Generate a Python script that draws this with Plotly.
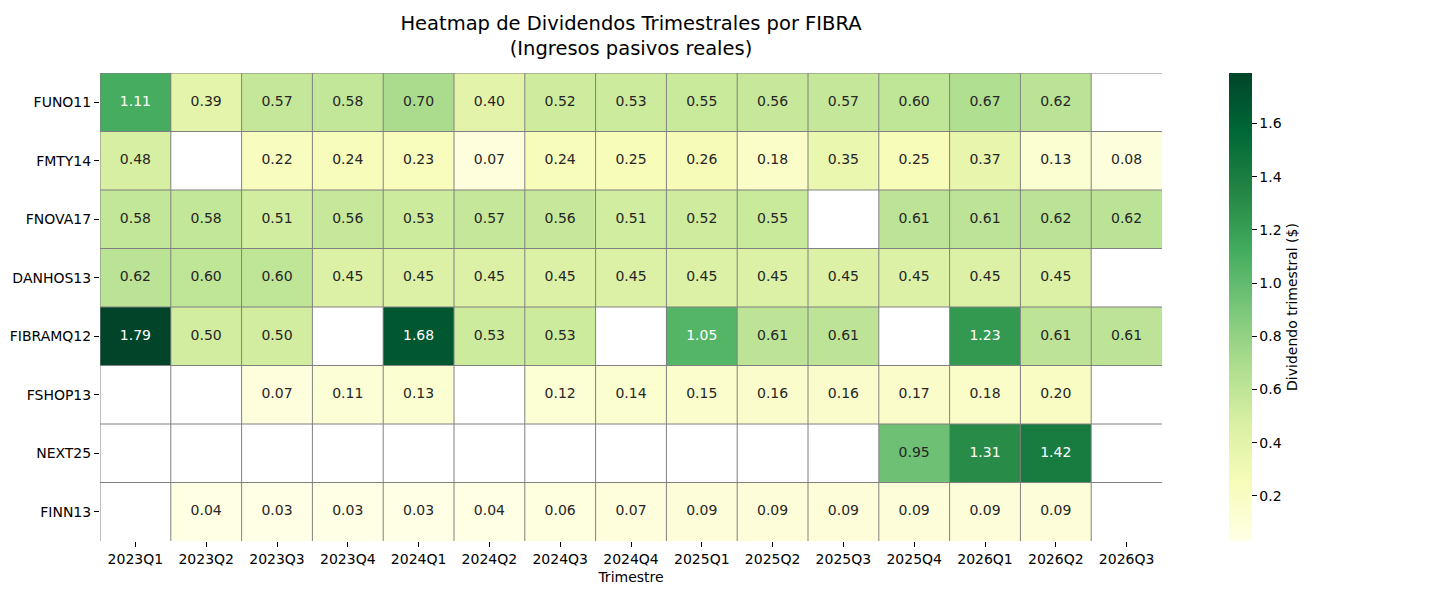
import numpy as np
import plotly.graph_objects as go

# data
quarters = ["2023Q1", "2023Q2", "2023Q3", "2023Q4", "2024Q1", "2024Q2", "2024Q3", "2024Q4",
            "2025Q1", "2025Q2", "2025Q3", "2025Q4", "2026Q1", "2026Q2", "2026Q3"]
fibras = ["FUNO11", "FMTY14", "FNOVA17", "DANHOS13", "FIBRAMQ12", "FSHOP13", "NEXT25", "FINN13"]

nan = None
funo11 = [1.11, 0.39, 0.57, 0.58, 0.70, 0.40, 0.52, 0.53, 0.55, 0.56, 0.57, 0.60, 0.67, 0.62, nan]
fmty14 = [0.48, nan, 0.22, 0.24, 0.23, 0.07, 0.24, 0.25, 0.26, 0.18, 0.35, 0.25, 0.37, 0.13, 0.08]
fnova17 = [0.58, 0.58, 0.51, 0.56, 0.53, 0.57, 0.56, 0.51, 0.52, 0.55, nan, 0.61, 0.61, 0.62, 0.62]
danhos13 = [0.62, 0.60, 0.60, 0.45, 0.45, 0.45, 0.45, 0.45, 0.45, 0.45, 0.45, 0.45, 0.45, 0.45, nan]
fibramq12 = [1.79, 0.50, 0.50, nan, 1.68, 0.53, 0.53, nan, 1.05, 0.61, 0.61, nan, 1.23, 0.61, 0.61]
fshop13 = [nan, nan, 0.07, 0.11, 0.13, nan, 0.12, 0.14, 0.15, 0.16, 0.16, 0.17, 0.18, 0.20, nan]
next25 = [nan, nan, nan, nan, nan, nan, nan, nan, nan, nan, nan, 0.95, 1.31, 1.42, nan]
finn13 = [nan, 0.04, 0.03, 0.03, 0.03, 0.04, 0.06, 0.07, 0.09, 0.09, 0.09, 0.09, 0.09, 0.09, nan]

rows = [funo11, fmty14, fnova17, danhos13, fibramq12, fshop13, next25, finn13]
z = np.array([[np.nan if v is None else v for v in r] for r in rows])

ylgn = ["#ffffe5", "#f7fcb9", "#d9f0a3", "#addd8e", "#78c679",
        "#41ab5d", "#238443", "#006837", "#004529"]
colorscale = [[i / (len(ylgn) - 1), c] for i, c in enumerate(ylgn)]

zmin = np.nanmin(z)
zmax = np.nanmax(z)

# page body adds an 8px offset, so the figure is drawn 8px smaller and shifted
W, H = 1432, 592
L, T, PW, PH = 92, 65, 1062, 468

fig = go.Figure()
fig.add_trace(go.Heatmap(
    z=z, x=quarters, y=fibras,
    colorscale=colorscale, zmin=zmin, zmax=zmax,
    hoverongaps=False,
    colorbar=dict(
        x=(1229 - 100) / PW, xanchor="left", y=0.5, yanchor="middle",
        len=1, lenmode="fraction", xpad=0, ypad=0,
        thickness=23, outlinewidth=0,
        tickvals=[0.2, 0.4, 0.6, 0.8, 1.0, 1.2, 1.4, 1.6],
        ticktext=["0.2", "0.4", "0.6", "0.8", "1.0", "1.2", "1.4", "1.6"],
        ticks="outside", ticklen=5, tickcolor="#000",
        tickfont=dict(size=14, color="#000"),
        title=dict(text="Dividendo trimestral ($)", side="right",
                   font=dict(size=14, color="#000")),
    ),
))

# cell annotations: white on dark cells, dark grey otherwise
tx, ty, tt, tc = [], [], [], []
for j, name in enumerate(fibras):
    for i, q in enumerate(quarters):
        v = z[j, i]
        if np.isnan(v):
            continue
        tx.append(q)
        ty.append(name)
        tt.append(f"{v:.2f}")
        tc.append("white" if (v - zmin) / (zmax - zmin) > 0.55 else "#262626")

fig.add_trace(go.Scatter(
    x=tx, y=ty, text=tt, mode="text",
    textfont=dict(size=14, color=tc, family="DejaVu Sans"),
    hoverinfo="skip", showlegend=False,
))

# grey cell borders
shapes = []
for i in range(len(quarters)):
    shapes.append(dict(type="line", xref="x", yref="y", x0=i - 0.5, x1=i - 0.5,
                       y0=-0.5, y1=len(fibras) - 0.5, layer="above",
                       line=dict(color="gray", width=1)))
for j in range(len(fibras)):
    shapes.append(dict(type="line", xref="x", yref="y", x0=-0.5, x1=len(quarters) - 0.5,
                       y0=j - 0.5, y1=j - 0.5, layer="above",
                       line=dict(color="gray", width=1)))

fig.update_layout(
    width=W, height=H,
    margin=dict(l=L, r=W - L - PW, t=T, b=H - T - PH, autoexpand=False),
    paper_bgcolor="white", plot_bgcolor="white",
    font=dict(family="DejaVu Sans", color="#000"),
    shapes=shapes,
    title=dict(text="Heatmap de Dividendos Trimestrales por FIBRA<br>(Ingresos pasivos reales)",
               x=(L + PW / 2) / W, xanchor="center",
               y=1 - 22 / H, yanchor="middle", yref="container", automargin=False,
               font=dict(size=19.5, color="#000")),
    xaxis=dict(type="category", showgrid=False, zeroline=False, showline=False,
               automargin=False, range=[-0.5, len(quarters) - 0.5],
               ticks="outside", ticklen=5, tickcolor="#000",
               tickfont=dict(size=14, color="#000"),
               title=dict(text="Trimestre", standoff=6, font=dict(size=14, color="#000"))),
    yaxis=dict(type="category", showgrid=False, zeroline=False, showline=False,
               automargin=False, range=[len(fibras) - 0.5, -0.5],
               ticks="outside", ticklen=5, tickcolor="#000",
               tickfont=dict(size=14, color="#000")),
    annotations=[dict(text="FIBRA", textangle=-90, xref="paper", yref="paper",
                      x=-102 / PW, y=0.5, xanchor="center", yanchor="middle",
                      showarrow=False, font=dict(size=14, color="#000"))],
)

fig.write_html("out.html")
